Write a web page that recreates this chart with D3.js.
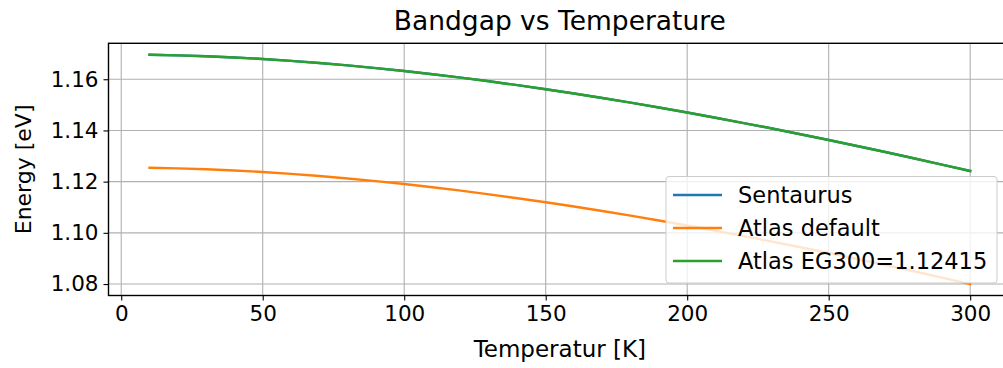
<!DOCTYPE html>
<html>
<head>
<meta charset="utf-8">
<script src="https://cdn.jsdelivr.net/npm/d3@7"></script>
<style>
html,body{margin:0;padding:0;background:#fff;}
svg{display:block;font-family:"DejaVu Sans",sans-serif;}
</style>
</head>
<body>
<svg id="chart" width="1003" height="368"></svg>
<script>
const temperatures = [10,20,30,40,50,60,70,80,90,100,110,120,130,140,150,160,170,180,190,200,210,220,230,240,250,260,270,280,290,300];
const sentaurus = [1.16956,1.16934,1.16899,1.16851,1.16791,1.16718,1.16635,1.16540,1.16435,1.16320,1.16196,1.16062,1.15919,1.15768,1.15609,1.15442,1.15267,1.15085,1.14896,1.14700,1.14497,1.14288,1.14074,1.13853,1.13626,1.13394,1.13157,1.12915,1.12667,1.12415];
const atlasDefault = [1.12541,1.12519,1.12484,1.12436,1.12376,1.12303,1.12220,1.12125,1.12020,1.11905,1.11781,1.11647,1.11504,1.11353,1.11194,1.11027,1.10852,1.10670,1.10481,1.10285,1.10082,1.09873,1.09659,1.09438,1.09211,1.08979,1.08742,1.08500,1.08252,1.08000];
const atlasEG300 = [1.16956,1.16934,1.16899,1.16851,1.16791,1.16718,1.16635,1.16540,1.16435,1.16320,1.16196,1.16062,1.15919,1.15768,1.15609,1.15442,1.15267,1.15085,1.14896,1.14700,1.14497,1.14288,1.14074,1.13853,1.13626,1.13394,1.13157,1.12915,1.12667,1.12415];
const seriesNames = ["Sentaurus","Atlas default","Atlas EG300=1.12415"];
const seriesColors = ["#1f77b4","#ff7f0e","#2ca02c"];
const xTicks = [0,50,100,150,200,250,300];
const yTicks = [1.08,1.10,1.12,1.14,1.16];
const titleText = "Bandgap vs Temperature";
const xLabel = "Temperatur [K]";
const yLabel = "Energy [eV]";

const svg = d3.select("#chart");
const L = 108.5, R = 1011.2, T = 43.3, B = 295.5;
const x = d3.scaleLinear().domain([-4.5, 314.5]).range([L, R]);
const y = d3.scaleLinear().domain([1.07552, 1.17404]).range([B, T]);

const FS = 21.5;
// grid
const g = svg.append("g");
g.selectAll(".vg").data(xTicks).join("line")
  .attr("x1", d=>x(d)).attr("x2", d=>x(d)).attr("y1", T).attr("y2", B)
  .attr("stroke", "#b0b0b0").attr("stroke-width", 1.1);
g.selectAll(".hg").data(yTicks).join("line")
  .attr("y1", d=>y(d)).attr("y2", d=>y(d)).attr("x1", L).attr("x2", R)
  .attr("stroke", "#b0b0b0").attr("stroke-width", 1.1);

// lines
const allSeries = [sentaurus, atlasDefault, atlasEG300];
const line = d3.line().x((d,i)=>x(temperatures[i])).y(d=>y(d));
svg.append("g").selectAll("path").data(allSeries).join("path")
  .attr("d", d=>line(d)).attr("fill","none")
  .attr("stroke", (d,i)=>seriesColors[i]).attr("stroke-width", 2.4)
  .attr("stroke-linecap","square");

// axes
const xAxis = svg.append("g").attr("transform", `translate(0,${B})`)
  .call(d3.axisBottom(x).tickValues(xTicks).tickFormat(d3.format("d")).tickSizeOuter(0).tickSize(5).tickPadding(5));
const yAxis = svg.append("g").attr("transform", `translate(${L},0)`)
  .call(d3.axisLeft(y).tickValues(yTicks).tickFormat(d3.format(".2f")).tickSizeOuter(0).tickSize(5).tickPadding(5));
[xAxis, yAxis].forEach(a => {
  a.select(".domain").remove();
  a.selectAll(".tick line").attr("stroke","#000").attr("stroke-width",1.1);
  a.selectAll(".tick text").attr("fill","#000").style("font-size", FS+"px").style("font-family","DejaVu Sans");
});

// spines
svg.append("rect").attr("x", L).attr("y", T).attr("width", R-L).attr("height", B-T)
  .attr("fill","none").attr("stroke","#000").attr("stroke-width",1.4);

// title & labels
svg.append("text").attr("x", (L+R)/2).attr("y", 30).attr("text-anchor","middle")
  .style("font-size","26.5px").text(titleText);
svg.append("text").attr("x", (L+R)/2).attr("y", 357).attr("text-anchor","middle")
  .style("font-size","23px").text(xLabel);
svg.append("text").attr("transform", `translate(31,${(T+B)/2}) rotate(-90)`).attr("text-anchor","middle")
  .style("font-size","22px").text(yLabel);

// legend
const lg = svg.append("g");
lg.append("rect").attr("x",666).attr("y",176.5).attr("width",331).attr("height",106.5)
  .attr("rx",3).attr("fill","#fff").attr("fill-opacity",0.8).attr("stroke","#cccccc").attr("stroke-width",1);
const rows = lg.selectAll(".row").data(seriesNames).join("g")
  .attr("transform",(d,i)=>`translate(0,${195 + i*33})`);
rows.append("line").attr("x1",673).attr("x2",722).attr("y1",0).attr("y2",0)
  .attr("stroke",(d,i)=>seriesColors[i]).attr("stroke-width",2.4);
rows.append("text").attr("x",738).attr("y",0).attr("dy","0.36em")
  .style("font-size","22.5px").text(d=>d);
</script>
</body>
</html>
